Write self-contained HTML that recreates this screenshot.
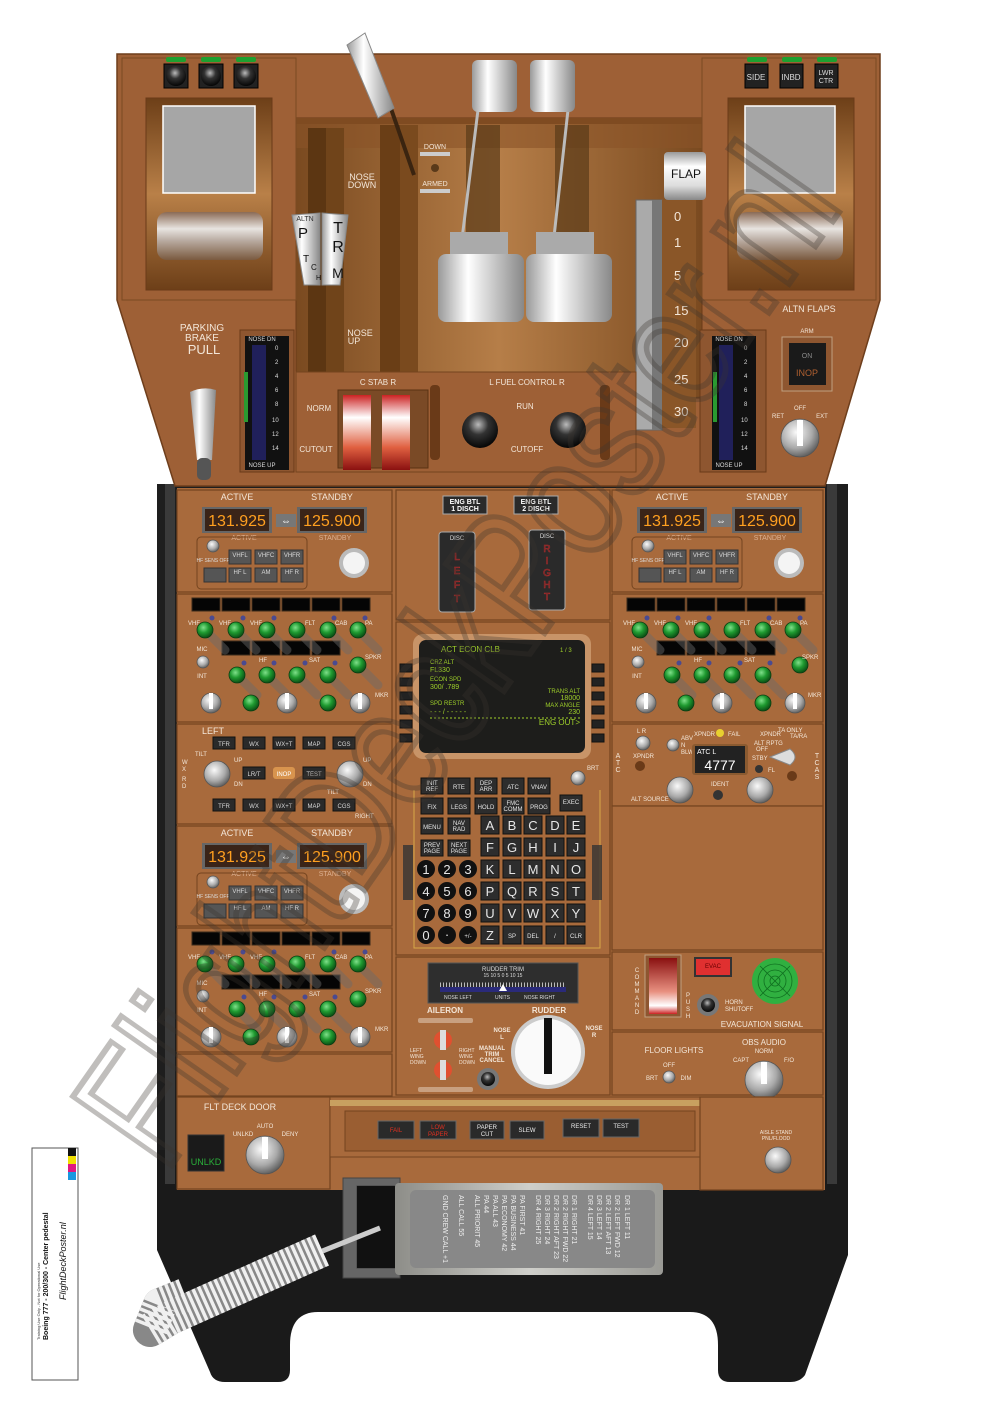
<!DOCTYPE html>
<html><head><meta charset="utf-8"><style>
html,body{margin:0;padding:0;background:#fff;}
svg{display:block}
text{font-family:"Liberation Sans",sans-serif;}
.w{fill:#f3e6d8;}
.s{font-size:7px}
.m{font-size:9px}
.c{text-anchor:middle}
.p{fill:#a86a3c;stroke:#74441f;stroke-width:1.2}
.k{fill:#2a2a2a;stroke:#111;stroke-width:.8}
.bt{fill:#d8d8d8;font-size:6px;text-anchor:middle}
.g{fill:url(#gk);stroke:#0c3d12;stroke-width:.8}
.sv{fill:url(#sil);stroke:#555;stroke-width:.8}
.blk{fill:#050505;stroke:#3a2a1a;stroke-width:1}
.ck{fill:#2d2d2d;stroke:#111}
.ckt{fill:#e6e6e6;font-size:13px;text-anchor:middle}
.ckts{fill:#e6e6e6;font-size:6px;text-anchor:middle}
</style></head><body>
<svg width="1000" height="1410" viewBox="0 0 1000 1410" xmlns="http://www.w3.org/2000/svg">
<defs>
<radialGradient id="gk" cx="40%" cy="35%" r="65%"><stop offset="0" stop-color="#7fe08a"/><stop offset=".5" stop-color="#1f9a30"/><stop offset="1" stop-color="#0b5015"/></radialGradient>
<radialGradient id="sil" cx="40%" cy="35%" r="70%"><stop offset="0" stop-color="#fafafa"/><stop offset=".6" stop-color="#a9a9a9"/><stop offset="1" stop-color="#555"/></radialGradient>
<radialGradient id="blkn" cx="45%" cy="35%" r="70%"><stop offset="0" stop-color="#bbb"/><stop offset=".4" stop-color="#333"/><stop offset="1" stop-color="#000"/></radialGradient>
<linearGradient id="cyl" x1="0" y1="0" x2="0" y2="1"><stop offset="0" stop-color="#8a6a55"/><stop offset=".35" stop-color="#e8e4e0"/><stop offset=".6" stop-color="#b8aaa0"/><stop offset="1" stop-color="#7a5a40"/></linearGradient>
<linearGradient id="wh" x1="0" y1="0" x2="0" y2="1"><stop offset="0" stop-color="#999"/><stop offset=".3" stop-color="#fff"/><stop offset=".7" stop-color="#ddd"/><stop offset="1" stop-color="#888"/></linearGradient>
<linearGradient id="whh" x1="0" y1="0" x2="1" y2="0"><stop offset="0" stop-color="#999"/><stop offset=".35" stop-color="#fff"/><stop offset="1" stop-color="#888"/></linearGradient>
<linearGradient id="ctr" x1="0" y1="0" x2="1" y2="0"><stop offset="0" stop-color="#7a4a20"/><stop offset=".5" stop-color="#b67e48"/><stop offset="1" stop-color="#7a4a20"/></linearGradient>
<linearGradient id="frm" x1="0" y1="0" x2="0" y2="1"><stop offset="0" stop-color="#6d3f18"/><stop offset=".5" stop-color="#b98048"/><stop offset="1" stop-color="#6d3f18"/></linearGradient>
<linearGradient id="red" x1="0" y1="0" x2="0" y2="1"><stop offset="0" stop-color="#c22"/><stop offset=".3" stop-color="#fff"/><stop offset=".7" stop-color="#e06040"/><stop offset="1" stop-color="#8a1010"/></linearGradient>
<linearGradient id="red2" x1="0" y1="0" x2="0" y2="1"><stop offset="0" stop-color="#8a1010"/><stop offset=".6" stop-color="#e89080"/><stop offset=".85" stop-color="#fff"/><stop offset="1" stop-color="#c22"/></linearGradient>
<linearGradient id="plate" x1="0" y1="0" x2="1" y2="0"><stop offset="0" stop-color="#8d8d88"/><stop offset=".5" stop-color="#cfcfca"/><stop offset="1" stop-color="#9a9a95"/></linearGradient>
</defs>

<!-- base black body -->
<rect x="157" y="484" width="691" height="700" fill="#1e1e1e"/>
<path d="M157,1150 L848,1150 L848,1255 L805,1375 Q800,1382 790,1382 L730,1382 Q718,1382 718,1370 L718,1345 Q718,1312 690,1312 L318,1312 Q290,1312 290,1345 L290,1370 Q290,1382 278,1382 L225,1382 Q213,1382 210,1372 L157,1250 Z" fill="#1a1a1a"/>
<rect x="165" y="484" width="10" height="700" fill="#3a3a3a"/>
<rect x="827" y="484" width="10" height="700" fill="#3a3a3a"/>

<!-- TOP SECTION -->
<polygon points="117,54 880,54 880,300 825,486 175,486 117,300" fill="#9e6036" stroke="#6e3e1c" stroke-width="1.5"/>
<rect x="296" y="118" width="406" height="280" fill="url(#ctr)" stroke="#6a3a18"/>
<rect x="296" y="118" width="406" height="6" fill="#6e4018"/>
<rect x="296" y="118" width="406" height="30" fill="#8a5428" opacity=".6"/>
<rect x="122" y="58" width="174" height="242" fill="#9e6036" stroke="#7a4a22"/>
<rect x="146" y="98" width="126" height="192" fill="url(#frm)" stroke="#6a3a18"/>
<rect x="163" y="106" width="92" height="87" fill="#a6a6a6" stroke="#fff" stroke-width="1.5"/>
<rect x="157" y="212" width="106" height="48" rx="10" fill="url(#cyl)"/>
<rect x="702" y="58" width="174" height="242" fill="#9e6036" stroke="#7a4a22"/>
<rect x="728" y="98" width="126" height="192" fill="url(#frm)" stroke="#6a3a18"/>
<rect x="745" y="106" width="90" height="87" fill="#a6a6a6" stroke="#fff" stroke-width="1.5"/>
<rect x="737" y="212" width="106" height="48" rx="10" fill="url(#cyl)"/>
<g fill="#1ea030"><rect x="166" y="57" width="20" height="5" rx="2"/><rect x="201" y="57" width="20" height="5" rx="2"/><rect x="236" y="57" width="20" height="5" rx="2"/><rect x="747" y="57" width="20" height="5" rx="2"/><rect x="782" y="57" width="20" height="5" rx="2"/><rect x="817" y="57" width="20" height="5" rx="2"/></g>
<g fill="#222" stroke="#000"><rect x="164" y="64" width="24" height="24"/><rect x="199" y="64" width="24" height="24"/><rect x="234" y="64" width="24" height="24"/><rect x="745" y="64" width="23" height="24"/><rect x="780" y="64" width="23" height="24"/><rect x="815" y="64" width="23" height="24"/></g>
<g fill="url(#blkn)"><circle cx="176" cy="76" r="10"/><circle cx="211" cy="76" r="10"/><circle cx="246" cy="76" r="10"/></g>
<text x="756" y="80" class="c" fill="#ddd" font-size="8">SIDE</text>
<text x="791" y="80" class="c" fill="#ddd" font-size="8">INBD</text>
<text x="826" y="75" class="c" fill="#ddd" font-size="7">LWR</text><text x="826" y="83" class="c" fill="#ddd" font-size="7">CTR</text>

<rect x="308" y="128" width="36" height="262" fill="#5c3612"/>
<rect x="326" y="128" width="18" height="262" fill="#70441a"/>
<rect x="380" y="125" width="38" height="248" fill="#6a3e16"/>
<rect x="400" y="125" width="18" height="248" fill="#7a4a1e"/>
<text x="362" y="180" class="w m c">NOSE</text><text x="362" y="188" class="w m c">DOWN</text>
<text x="360" y="336" class="w m c">NOSE</text><text x="354" y="344" class="w m c">UP</text>
<path d="M292,215 L320,213 L320,285 L304,285 Z" fill="url(#whh)" stroke="#888"/>
<path d="M322,213 L348,215 L340,285 L322,285 Z" fill="url(#whh)" stroke="#888"/>
<text x="305" y="221" class="c" font-size="7" fill="#333">ALTN</text>
<text x="298" y="238" font-size="15" fill="#111">P</text>
<text x="303" y="262" font-size="10" fill="#111">T</text><text x="311" y="270" font-size="8" fill="#111">C</text><text x="316" y="280" font-size="7" fill="#111">H</text>
<text x="338" y="233" class="c" font-size="16" fill="#111">T</text><text x="338" y="252" class="c" font-size="16" fill="#111">R</text><text x="338" y="278" class="c" font-size="14" fill="#111">M</text>
<line x1="388" y1="100" x2="414" y2="175" stroke="#3a2410" stroke-width="4"/>
<polygon points="347,45 365,33 394,108 378,118" fill="url(#whh)" stroke="#888"/>
<text x="435" y="149" class="c w" font-size="7">DOWN</text><rect x="420" y="152" width="30" height="4" fill="#ccc"/>
<circle cx="435" cy="168" r="4" fill="#5a3a1a"/>
<text x="435" y="186" class="c w" font-size="7">ARMED</text><rect x="420" y="189" width="30" height="4" fill="#ccc"/>
<rect x="466" y="125" width="34" height="170" fill="#5a3a18" opacity=".7"/>
<rect x="555" y="125" width="34" height="170" fill="#5a3a18" opacity=".7"/>
<line x1="478" y1="110" x2="460" y2="255" stroke="#bbb" stroke-width="3"/>
<line x1="568" y1="110" x2="552" y2="255" stroke="#bbb" stroke-width="3"/>
<rect x="472" y="60" width="45" height="52" rx="6" fill="url(#whh)"/>
<rect x="530" y="60" width="45" height="52" rx="6" fill="url(#whh)"/>
<rect x="450" y="232" width="58" height="26" fill="#aaa"/>
<rect x="536" y="232" width="58" height="26" fill="#aaa"/>
<rect x="438" y="254" width="86" height="68" rx="8" fill="url(#whh)"/>
<rect x="526" y="254" width="86" height="68" rx="8" fill="url(#whh)"/>
<rect x="636" y="200" width="26" height="230" fill="#aaa" stroke="#666"/>
<rect x="652" y="200" width="10" height="230" fill="#777"/>
<rect x="662" y="200" width="34" height="228" fill="#8a5628"/>
<rect x="664" y="152" width="42" height="48" rx="4" fill="url(#wh)"/>
<text x="686" y="178" class="c" font-size="12" fill="#111">FLAP</text>
<g class="w" font-size="13"><text x="674" y="221">0</text><text x="674" y="247">1</text><text x="674" y="280">5</text><text x="674" y="315">15</text><text x="674" y="347">20</text><text x="674" y="384">25</text><text x="674" y="416">30</text></g>
<rect x="296" y="372" width="340" height="100" fill="#9e6036" stroke="#74441f"/>
<text x="202" y="331" class="w c" font-size="10">PARKING</text><text x="202" y="341" class="w c" font-size="10">BRAKE</text><text x="204" y="354" class="w c" font-size="13">PULL</text>
<path d="M190,392 Q203,386 216,390 L212,460 L197,460 Z" fill="url(#whh)"/>
<rect x="197" y="458" width="14" height="22" rx="5" fill="#555"/>
<rect x="240" y="330" width="54" height="142" fill="#8e5630" stroke="#6a3a18"/>
<rect x="245" y="336" width="44" height="134" fill="#111"/>
<rect x="252" y="345" width="14" height="115" fill="#20205a"/>
<rect x="244" y="372" width="4" height="50" fill="#2a9a30"/>
<text x="262" y="341" class="c" font-size="6" fill="#ddd">NOSE DN</text><text x="262" y="467" class="c" font-size="6" fill="#ddd">NOSE UP</text>
<g fill="#ddd" font-size="6"><text x="275" y="350">0</text><text x="275" y="364">2</text><text x="275" y="378">4</text><text x="275" y="392">6</text><text x="275" y="406">8</text><text x="272" y="422">10</text><text x="272" y="436">12</text><text x="272" y="450">14</text></g>
<rect x="700" y="330" width="66" height="142" fill="#8e5630" stroke="#6a3a18"/>
<rect x="712" y="336" width="44" height="134" fill="#111"/>
<rect x="719" y="345" width="14" height="115" fill="#20205a"/>
<rect x="713" y="372" width="4" height="50" fill="#2a9a30"/>
<text x="729" y="341" class="c" font-size="6" fill="#ddd">NOSE DN</text><text x="729" y="467" class="c" font-size="6" fill="#ddd">NOSE UP</text>
<g fill="#ddd" font-size="6"><text x="744" y="350">0</text><text x="744" y="364">2</text><text x="744" y="378">4</text><text x="744" y="392">6</text><text x="744" y="406">8</text><text x="741" y="422">10</text><text x="741" y="436">12</text><text x="741" y="450">14</text></g>
<text x="378" y="385" class="w c" font-size="8">C STAB R</text>
<text x="319" y="411" class="w c" font-size="8">NORM</text><text x="316" y="452" class="w c" font-size="8">CUTOUT</text>
<rect x="338" y="390" width="90" height="78" fill="#7a4a26" stroke="#5a3212"/>
<rect x="343" y="395" width="28" height="75" fill="url(#red)"/><rect x="382" y="395" width="28" height="75" fill="url(#red)"/>
<text x="527" y="385" class="w c" font-size="8">L FUEL CONTROL R</text>
<text x="525" y="409" class="w c" font-size="8">RUN</text><text x="527" y="452" class="w c" font-size="8">CUTOFF</text>
<circle cx="480" cy="430" r="18" fill="url(#blkn)"/><circle cx="568" cy="430" r="18" fill="url(#blkn)"/>
<rect x="600" y="385" width="10" height="75" rx="4" fill="#6a3a18"/><rect x="430" y="385" width="10" height="75" rx="4" fill="#6a3a18"/>
<text x="809" y="312" class="w c" font-size="9">ALTN FLAPS</text>
<text x="807" y="333" class="w c" font-size="6">ARM</text>
<rect x="782" y="337" width="50" height="54" fill="#8e5630" stroke="#c0a080"/>
<rect x="789" y="343" width="37" height="42" fill="#1a1a1a"/>
<text x="807" y="358" class="c" font-size="7" fill="#888">ON</text><text x="807" y="376" class="c" font-size="9" fill="#b06030">INOP</text>
<text x="800" y="410" class="w c" font-size="6">OFF</text><text x="778" y="418" class="w c" font-size="6">RET</text><text x="822" y="418" class="w c" font-size="6">EXT</text>
<circle cx="800" cy="438" r="19" class="sv"/><rect x="797" y="420" width="6" height="26" fill="#fff"/>

<!-- MIDDLE PANELS BG -->
<rect x="177" y="488" width="648" height="702" fill="#a86a3c"/>

<g transform="translate(177,490)">
<rect width="215" height="102" class="p"/>
<text x="60" y="10" class="w m c">ACTIVE</text><text x="155" y="10" class="w m c">STANDBY</text>
<rect x="25" y="17" width="70" height="26" fill="#666"/><rect x="28" y="19" width="64" height="22" fill="#3a2418"/>
<text x="60" y="36" class="c" font-size="16" fill="#ffa020">131.925</text>
<rect x="99" y="24" width="20" height="13" fill="#777"/><text x="109" y="34" class="c" font-size="10" fill="#fff">⇔</text>
<rect x="120" y="17" width="70" height="26" fill="#666"/><rect x="123" y="19" width="64" height="22" fill="#3a2418"/>
<text x="155" y="36" class="c" font-size="16" fill="#ffa020">125.900</text>
<text x="67" y="50" class="c s" fill="#dcb090">ACTIVE</text><text x="158" y="50" class="c s" fill="#dcb090">STANDBY</text>
<rect x="20" y="47" width="110" height="52" rx="4" fill="none" stroke="#74441f"/>
<circle cx="36" cy="56" r="6" class="sv"/>
<text x="36" y="72" class="c" font-size="5" fill="#ddd">HF SENS OFF</text>
<g fill="#555" stroke="#333"><rect x="52" y="60" width="22" height="14"/><rect x="78" y="60" width="22" height="14"/><rect x="104" y="60" width="22" height="14"/><rect x="52" y="78" width="22" height="14"/><rect x="78" y="78" width="22" height="14"/><rect x="104" y="78" width="22" height="14"/><rect x="27" y="78" width="22" height="14"/></g>
<text x="63" y="67" class="bt">VHFL</text><text x="89" y="67" class="bt">VHFC</text><text x="115" y="67" class="bt">VHFR</text>
<text x="63" y="84" class="bt">HF L</text><text x="89" y="84" class="bt">AM</text><text x="115" y="84" class="bt">HF R</text>
<circle cx="177" cy="73" r="15" fill="#bbb"/><circle cx="177" cy="73" r="11" fill="#f4f4f4"/>
</g>
<g transform="translate(177,826)">
<rect width="215" height="100" class="p"/>
<text x="60" y="10" class="w m c">ACTIVE</text><text x="155" y="10" class="w m c">STANDBY</text>
<rect x="25" y="17" width="70" height="26" fill="#666"/><rect x="28" y="19" width="64" height="22" fill="#3a2418"/>
<text x="60" y="36" class="c" font-size="16" fill="#ffa020">131.925</text>
<rect x="99" y="24" width="20" height="13" fill="#777"/><text x="109" y="34" class="c" font-size="10" fill="#fff">⇔</text>
<rect x="120" y="17" width="70" height="26" fill="#666"/><rect x="123" y="19" width="64" height="22" fill="#3a2418"/>
<text x="155" y="36" class="c" font-size="16" fill="#ffa020">125.900</text>
<text x="67" y="50" class="c s" fill="#dcb090">ACTIVE</text><text x="158" y="50" class="c s" fill="#dcb090">STANDBY</text>
<rect x="20" y="47" width="110" height="52" rx="4" fill="none" stroke="#74441f"/>
<circle cx="36" cy="56" r="6" class="sv"/>
<text x="36" y="72" class="c" font-size="5" fill="#ddd">HF SENS OFF</text>
<g fill="#555" stroke="#333"><rect x="52" y="60" width="22" height="14"/><rect x="78" y="60" width="22" height="14"/><rect x="104" y="60" width="22" height="14"/><rect x="52" y="78" width="22" height="14"/><rect x="78" y="78" width="22" height="14"/><rect x="104" y="78" width="22" height="14"/><rect x="27" y="78" width="22" height="14"/></g>
<text x="63" y="67" class="bt">VHFL</text><text x="89" y="67" class="bt">VHFC</text><text x="115" y="67" class="bt">VHFR</text>
<text x="63" y="84" class="bt">HF L</text><text x="89" y="84" class="bt">AM</text><text x="115" y="84" class="bt">HF R</text>
<circle cx="177" cy="73" r="15" fill="#bbb"/><circle cx="177" cy="73" r="11" fill="#f4f4f4"/>
</g>
<g transform="translate(612,490)">
<rect width="211" height="102" class="p"/>
<text x="60" y="10" class="w m c">ACTIVE</text><text x="155" y="10" class="w m c">STANDBY</text>
<rect x="25" y="17" width="70" height="26" fill="#666"/><rect x="28" y="19" width="64" height="22" fill="#3a2418"/>
<text x="60" y="36" class="c" font-size="16" fill="#ffa020">131.925</text>
<rect x="99" y="24" width="20" height="13" fill="#777"/><text x="109" y="34" class="c" font-size="10" fill="#fff">⇔</text>
<rect x="120" y="17" width="70" height="26" fill="#666"/><rect x="123" y="19" width="64" height="22" fill="#3a2418"/>
<text x="155" y="36" class="c" font-size="16" fill="#ffa020">125.900</text>
<text x="67" y="50" class="c s" fill="#dcb090">ACTIVE</text><text x="158" y="50" class="c s" fill="#dcb090">STANDBY</text>
<rect x="20" y="47" width="110" height="52" rx="4" fill="none" stroke="#74441f"/>
<circle cx="36" cy="56" r="6" class="sv"/>
<text x="36" y="72" class="c" font-size="5" fill="#ddd">HF SENS OFF</text>
<g fill="#555" stroke="#333"><rect x="52" y="60" width="22" height="14"/><rect x="78" y="60" width="22" height="14"/><rect x="104" y="60" width="22" height="14"/><rect x="52" y="78" width="22" height="14"/><rect x="78" y="78" width="22" height="14"/><rect x="104" y="78" width="22" height="14"/><rect x="27" y="78" width="22" height="14"/></g>
<text x="63" y="67" class="bt">VHFL</text><text x="89" y="67" class="bt">VHFC</text><text x="115" y="67" class="bt">VHFR</text>
<text x="63" y="84" class="bt">HF L</text><text x="89" y="84" class="bt">AM</text><text x="115" y="84" class="bt">HF R</text>
<circle cx="177" cy="73" r="15" fill="#bbb"/><circle cx="177" cy="73" r="11" fill="#f4f4f4"/>
</g>

<g transform="translate(177,594)">
<rect width="215" height="128" class="p"/>
<g class="blk"><rect x="15" y="4" width="28" height="13"/><rect x="45" y="4" width="28" height="13"/><rect x="75" y="4" width="28" height="13"/><rect x="105" y="4" width="28" height="13"/><rect x="135" y="4" width="28" height="13"/><rect x="165" y="4" width="28" height="13"/><rect x="45" y="47" width="28" height="14"/><rect x="75" y="47" width="28" height="14"/><rect x="105" y="47" width="28" height="14"/><rect x="135" y="47" width="28" height="14"/></g>
<g stroke="#6b6b6b" stroke-width="9" opacity=".45" stroke-linecap="round"><line x1="30" y1="38" x2="48" y2="56"/><line x1="61" y1="38" x2="79" y2="56"/><line x1="92" y1="38" x2="110" y2="56"/><line x1="122" y1="38" x2="140" y2="56"/><line x1="153" y1="38" x2="171" y2="56"/><line x1="183" y1="38" x2="201" y2="56"/><line x1="62" y1="83" x2="80" y2="101"/><line x1="92" y1="83" x2="110" y2="101"/><line x1="122" y1="83" x2="140" y2="101"/><line x1="153" y1="83" x2="171" y2="101"/><line x1="183" y1="73" x2="201" y2="91"/></g>
<g class="g"><circle cx="28" cy="36" r="8"/><circle cx="59" cy="36" r="8"/><circle cx="90" cy="36" r="8"/><circle cx="120" cy="36" r="8"/><circle cx="151" cy="36" r="8"/><circle cx="181" cy="36" r="8"/><circle cx="60" cy="81" r="8"/><circle cx="90" cy="81" r="8"/><circle cx="120" cy="81" r="8"/><circle cx="151" cy="81" r="8"/><circle cx="181" cy="71" r="8"/><circle cx="74" cy="109" r="8"/><circle cx="151" cy="109" r="8"/></g>
<g fill="#4a4a90"><circle cx="35" cy="24" r="2.5"/><circle cx="66" cy="24" r="2.5"/><circle cx="97" cy="24" r="2.5"/><circle cx="157" cy="24" r="2.5"/><circle cx="188" cy="24" r="2.5"/><circle cx="67" cy="69" r="2.5"/><circle cx="97" cy="69" r="2.5"/><circle cx="128" cy="69" r="2.5"/><circle cx="158" cy="69" r="2.5"/></g>
<g class="w" font-size="6"><text x="11" y="31">VHF</text><text x="42" y="31">VHF</text><text x="73" y="31">VHF</text><text x="128" y="31">FLT</text><text x="158" y="31">CAB</text><text x="188" y="31">PA</text><text x="25" y="57" class="c">MIC</text><text x="25" y="84" class="c">INT</text><text x="82" y="68">HF</text><text x="132" y="68">SAT</text><text x="188" y="65">SPKR</text><text x="198" y="103">MKR</text></g>
<circle cx="26" cy="68" r="6" class="sv"/>
<g class="sv"><circle cx="34" cy="109" r="10"/><circle cx="110" cy="109" r="10"/><circle cx="183" cy="109" r="10"/></g>
<g fill="#fff"><rect x="32" y="99" width="4" height="16"/><rect x="108" y="99" width="4" height="16"/><rect x="181" y="99" width="4" height="16"/></g>
</g>
<g transform="translate(177,928)">
<rect width="215" height="124" class="p"/>
<g class="blk"><rect x="15" y="4" width="28" height="13"/><rect x="45" y="4" width="28" height="13"/><rect x="75" y="4" width="28" height="13"/><rect x="105" y="4" width="28" height="13"/><rect x="135" y="4" width="28" height="13"/><rect x="165" y="4" width="28" height="13"/><rect x="45" y="47" width="28" height="14"/><rect x="75" y="47" width="28" height="14"/><rect x="105" y="47" width="28" height="14"/><rect x="135" y="47" width="28" height="14"/></g>
<g stroke="#6b6b6b" stroke-width="9" opacity=".45" stroke-linecap="round"><line x1="30" y1="38" x2="48" y2="56"/><line x1="61" y1="38" x2="79" y2="56"/><line x1="92" y1="38" x2="110" y2="56"/><line x1="122" y1="38" x2="140" y2="56"/><line x1="153" y1="38" x2="171" y2="56"/><line x1="183" y1="38" x2="201" y2="56"/><line x1="62" y1="83" x2="80" y2="101"/><line x1="92" y1="83" x2="110" y2="101"/><line x1="122" y1="83" x2="140" y2="101"/><line x1="153" y1="83" x2="171" y2="101"/></g>
<g class="g"><circle cx="28" cy="36" r="8"/><circle cx="59" cy="36" r="8"/><circle cx="90" cy="36" r="8"/><circle cx="120" cy="36" r="8"/><circle cx="151" cy="36" r="8"/><circle cx="181" cy="36" r="8"/><circle cx="60" cy="81" r="8"/><circle cx="90" cy="81" r="8"/><circle cx="120" cy="81" r="8"/><circle cx="151" cy="81" r="8"/><circle cx="181" cy="71" r="8"/><circle cx="74" cy="109" r="8"/><circle cx="151" cy="109" r="8"/></g>
<g fill="#4a4a90"><circle cx="35" cy="24" r="2.5"/><circle cx="66" cy="24" r="2.5"/><circle cx="97" cy="24" r="2.5"/><circle cx="157" cy="24" r="2.5"/><circle cx="188" cy="24" r="2.5"/><circle cx="67" cy="69" r="2.5"/><circle cx="97" cy="69" r="2.5"/><circle cx="128" cy="69" r="2.5"/><circle cx="158" cy="69" r="2.5"/></g>
<g class="w" font-size="6"><text x="11" y="31">VHF</text><text x="42" y="31">VHF</text><text x="73" y="31">VHF</text><text x="128" y="31">FLT</text><text x="158" y="31">CAB</text><text x="188" y="31">PA</text><text x="25" y="57" class="c">MIC</text><text x="25" y="84" class="c">INT</text><text x="82" y="68">HF</text><text x="132" y="68">SAT</text><text x="188" y="65">SPKR</text><text x="198" y="103">MKR</text></g>
<circle cx="26" cy="68" r="6" class="sv"/>
<g class="sv"><circle cx="34" cy="109" r="10"/><circle cx="110" cy="109" r="10"/><circle cx="183" cy="109" r="10"/></g>
<g fill="#fff"><rect x="32" y="99" width="4" height="16"/><rect x="108" y="99" width="4" height="16"/><rect x="181" y="99" width="4" height="16"/></g>
</g>
<g transform="translate(612,594)">
<rect width="211" height="128" class="p"/>
<g class="blk"><rect x="15" y="4" width="28" height="13"/><rect x="45" y="4" width="28" height="13"/><rect x="75" y="4" width="28" height="13"/><rect x="105" y="4" width="28" height="13"/><rect x="135" y="4" width="28" height="13"/><rect x="165" y="4" width="28" height="13"/><rect x="45" y="47" width="28" height="14"/><rect x="75" y="47" width="28" height="14"/><rect x="105" y="47" width="28" height="14"/><rect x="135" y="47" width="28" height="14"/></g>
<g stroke="#6b6b6b" stroke-width="9" opacity=".45" stroke-linecap="round"><line x1="30" y1="38" x2="48" y2="56"/><line x1="61" y1="38" x2="79" y2="56"/><line x1="92" y1="38" x2="110" y2="56"/><line x1="122" y1="38" x2="140" y2="56"/><line x1="153" y1="38" x2="171" y2="56"/><line x1="183" y1="38" x2="201" y2="56"/><line x1="62" y1="83" x2="80" y2="101"/><line x1="92" y1="83" x2="110" y2="101"/><line x1="122" y1="83" x2="140" y2="101"/><line x1="153" y1="83" x2="171" y2="101"/></g>
<g class="g"><circle cx="28" cy="36" r="8"/><circle cx="59" cy="36" r="8"/><circle cx="90" cy="36" r="8"/><circle cx="120" cy="36" r="8"/><circle cx="151" cy="36" r="8"/><circle cx="181" cy="36" r="8"/><circle cx="60" cy="81" r="8"/><circle cx="90" cy="81" r="8"/><circle cx="120" cy="81" r="8"/><circle cx="151" cy="81" r="8"/><circle cx="188" cy="71" r="8"/><circle cx="74" cy="109" r="8"/><circle cx="151" cy="109" r="8"/></g>
<g fill="#4a4a90"><circle cx="35" cy="24" r="2.5"/><circle cx="66" cy="24" r="2.5"/><circle cx="97" cy="24" r="2.5"/><circle cx="157" cy="24" r="2.5"/><circle cx="188" cy="24" r="2.5"/><circle cx="67" cy="69" r="2.5"/><circle cx="97" cy="69" r="2.5"/><circle cx="128" cy="69" r="2.5"/><circle cx="158" cy="69" r="2.5"/></g>
<g class="w" font-size="6"><text x="11" y="31">VHF</text><text x="42" y="31">VHF</text><text x="73" y="31">VHF</text><text x="128" y="31">FLT</text><text x="158" y="31">CAB</text><text x="188" y="31">PA</text><text x="25" y="57" class="c">MIC</text><text x="25" y="84" class="c">INT</text><text x="82" y="68">HF</text><text x="132" y="68">SAT</text><text x="190" y="65">SPKR</text><text x="196" y="103">MKR</text></g>
<circle cx="26" cy="68" r="6" class="sv"/>
<g class="sv"><circle cx="34" cy="109" r="10"/><circle cx="110" cy="109" r="10"/><circle cx="183" cy="109" r="10"/></g>
<g fill="#fff"><rect x="32" y="99" width="4" height="16"/><rect x="108" y="99" width="4" height="16"/><rect x="181" y="99" width="4" height="16"/></g>
</g>

<g transform="translate(177,724)">
<rect width="215" height="100" class="p"/>
<text x="25" y="10" class="w m">LEFT</text>
<g fill="#2a2a2a" stroke="#111"><rect x="36" y="13" width="22" height="12"/><rect x="66" y="13" width="22" height="12"/><rect x="96" y="13" width="22" height="12"/><rect x="126" y="13" width="22" height="12"/><rect x="156" y="13" width="22" height="12"/><rect x="66" y="43" width="22" height="12"/><rect x="126" y="43" width="22" height="12"/><rect x="36" y="75" width="22" height="12"/><rect x="66" y="75" width="22" height="12"/><rect x="96" y="75" width="22" height="12"/><rect x="126" y="75" width="22" height="12"/><rect x="156" y="75" width="22" height="12"/></g>
<rect x="96" y="43" width="22" height="12" rx="3" fill="#d8944e"/>
<g class="bt"><text x="47" y="22">TFR</text><text x="77" y="22">WX</text><text x="107" y="22">WX+T</text><text x="137" y="22">MAP</text><text x="167" y="22">CGS</text><text x="77" y="52">LR/T</text><text x="107" y="52" fill="#fff">INOP</text><text x="137" y="52">TEST</text><text x="47" y="84">TFR</text><text x="77" y="84">WX</text><text x="107" y="84">WX+T</text><text x="137" y="84">MAP</text><text x="167" y="84">CGS</text></g>
<circle cx="40" cy="50" r="13" class="sv"/><circle cx="173" cy="50" r="13" class="sv"/>
<g class="w" font-size="6"><text x="18" y="32">TILT</text><text x="57" y="38">UP</text><text x="57" y="62">DN</text><text x="150" y="70">TILT</text><text x="186" y="38">UP</text><text x="186" y="62">DN</text><text x="178" y="94">RIGHT</text><text x="5" y="40">W</text><text x="5" y="47">X</text><text x="5" y="57">R</text><text x="5" y="64">D</text></g>
</g>

<rect x="177" y="1054" width="215" height="42" class="p"/>
<rect x="177" y="1097" width="153" height="92" class="p"/>
<text x="240" y="1110" class="w m c">FLT DECK DOOR</text>
<rect x="188" y="1135" width="36" height="36" fill="#1a1a1a" stroke="#333"/>
<text x="206" y="1165" class="c" font-size="9" fill="#2ab03a">UNLKD</text>
<text x="265" y="1128" class="w c" font-size="6">AUTO</text><text x="243" y="1136" class="w c" font-size="6">UNLKD</text><text x="290" y="1136" class="w c" font-size="6">DENY</text>
<circle cx="265" cy="1155" r="19" class="sv"/><rect x="262" y="1137" width="6" height="22" fill="#fff"/>

<rect x="396" y="490" width="214" height="130" class="p"/>
<rect x="443" y="496" width="44" height="18" fill="#2a2a2a" stroke="#aaa"/>
<text x="465" y="504" class="c" font-size="7" fill="#fff" font-weight="bold">ENG BTL</text><text x="465" y="511" class="c" font-size="7" fill="#fff" font-weight="bold">1 DISCH</text>
<rect x="514" y="496" width="44" height="18" fill="#2a2a2a" stroke="#aaa"/>
<text x="536" y="504" class="c" font-size="7" fill="#fff" font-weight="bold">ENG BTL</text><text x="536" y="511" class="c" font-size="7" fill="#fff" font-weight="bold">2 DISCH</text>
<rect x="439" y="532" width="36" height="80" rx="3" fill="#2a2a2a" stroke="#aaa"/>
<rect x="529" y="530" width="36" height="80" rx="3" fill="#2a2a2a" stroke="#aaa"/>
<text x="457" y="540" class="c" font-size="6" fill="#ddd">DISC</text><text x="547" y="538" class="c" font-size="6" fill="#ddd">DISC</text>
<g class="c" font-size="10" fill="none" stroke="#b02a2a" stroke-width=".6"><text x="457" y="560">L</text><text x="457" y="574">E</text><text x="457" y="588">F</text><text x="457" y="602">T</text><text x="547" y="552">R</text><text x="547" y="564">I</text><text x="547" y="576">G</text><text x="547" y="588">H</text><text x="547" y="600">T</text></g>

<rect x="396" y="622" width="214" height="333" class="p"/>
<rect x="413" y="634" width="178" height="125" rx="10" fill="#c89468"/>
<rect x="419" y="640" width="166" height="113" rx="7" fill="#1d1d1b"/>
<g fill="#9fd02a"><text x="441" y="652" font-size="8">ACT ECON CLB</text><text x="560" y="652" font-size="6">1 / 3</text>
<text x="430" y="664" font-size="6">CRZ ALT</text><text x="430" y="672" font-size="7">FL330</text><text x="430" y="681" font-size="6">ECON SPD</text><text x="430" y="689" font-size="7">300/ .789</text>
<text x="430" y="705" font-size="6">SPD RESTR</text><text x="430" y="714" font-size="7">- - - / - - - - -</text>
<text x="580" y="693" font-size="6" text-anchor="end">TRANS ALT</text><text x="580" y="700" font-size="7" text-anchor="end">18000</text><text x="580" y="707" font-size="6" text-anchor="end">MAX ANGLE</text><text x="580" y="714" font-size="7" text-anchor="end">230</text>
<text x="580" y="725" font-size="8" text-anchor="end">ENG OUT&gt;</text></g>
<line x1="430" y1="718" x2="580" y2="718" stroke="#9fd02a" stroke-dasharray="2 2"/>
<g fill="#222" stroke="#111"><rect x="400" y="664" width="12" height="8"/><rect x="400" y="678" width="12" height="8"/><rect x="400" y="692" width="12" height="8"/><rect x="400" y="706" width="12" height="8"/><rect x="400" y="720" width="12" height="8"/><rect x="400" y="734" width="12" height="8"/><rect x="592" y="664" width="12" height="8"/><rect x="592" y="678" width="12" height="8"/><rect x="592" y="692" width="12" height="8"/><rect x="592" y="706" width="12" height="8"/><rect x="592" y="720" width="12" height="8"/><rect x="592" y="734" width="12" height="8"/></g>
<circle cx="578" cy="778" r="7" class="sv"/><text x="587" y="770" class="w" font-size="6">BRT</text>
<path d="M414,790 L414,948 L600,948 L600,790" fill="none" stroke="#d8a848" stroke-width="1"/>
<g class="ck"><rect x="421" y="778" width="22" height="16"/><rect x="448" y="778" width="22" height="16"/><rect x="475" y="778" width="22" height="16"/><rect x="502" y="778" width="22" height="16"/><rect x="528" y="778" width="22" height="16"/>
<rect x="421" y="798" width="22" height="16"/><rect x="448" y="798" width="22" height="16"/><rect x="475" y="798" width="22" height="16"/><rect x="502" y="798" width="22" height="16"/><rect x="528" y="798" width="22" height="16"/><rect x="560" y="795" width="22" height="16"/>
<rect x="421" y="818" width="22" height="16"/><rect x="448" y="818" width="22" height="16"/><rect x="421" y="840" width="22" height="16"/><rect x="448" y="840" width="22" height="16"/></g>
<g class="ckts"><text x="432" y="785">INIT</text><text x="432" y="791">REF</text><text x="459" y="789">RTE</text><text x="486" y="785">DEP</text><text x="486" y="791">ARR</text><text x="513" y="789">ATC</text><text x="539" y="789">VNAV</text>
<text x="432" y="809">FIX</text><text x="459" y="809">LEGS</text><text x="486" y="809">HOLD</text><text x="513" y="805">FMC</text><text x="513" y="811">COMM</text><text x="539" y="809">PROG</text><text x="571" y="804">EXEC</text>
<text x="432" y="829">MENU</text><text x="459" y="825">NAV</text><text x="459" y="831">RAD</text><text x="432" y="847">PREV</text><text x="432" y="853">PAGE</text><text x="459" y="847">NEXT</text><text x="459" y="853">PAGE</text></g>
<g class="ck"><rect x="481" y="816" width="18" height="18"/><rect x="503" y="816" width="18" height="18"/><rect x="524" y="816" width="18" height="18"/><rect x="546" y="816" width="18" height="18"/><rect x="567" y="816" width="18" height="18"/>
<rect x="481" y="838" width="18" height="18"/><rect x="503" y="838" width="18" height="18"/><rect x="524" y="838" width="18" height="18"/><rect x="546" y="838" width="18" height="18"/><rect x="567" y="838" width="18" height="18"/>
<rect x="481" y="860" width="18" height="18"/><rect x="503" y="860" width="18" height="18"/><rect x="524" y="860" width="18" height="18"/><rect x="546" y="860" width="18" height="18"/><rect x="567" y="860" width="18" height="18"/>
<rect x="481" y="882" width="18" height="18"/><rect x="503" y="882" width="18" height="18"/><rect x="524" y="882" width="18" height="18"/><rect x="546" y="882" width="18" height="18"/><rect x="567" y="882" width="18" height="18"/>
<rect x="481" y="904" width="18" height="18"/><rect x="503" y="904" width="18" height="18"/><rect x="524" y="904" width="18" height="18"/><rect x="546" y="904" width="18" height="18"/><rect x="567" y="904" width="18" height="18"/>
<rect x="481" y="926" width="18" height="18"/><rect x="503" y="926" width="18" height="18"/><rect x="524" y="926" width="18" height="18"/><rect x="546" y="926" width="18" height="18"/><rect x="567" y="926" width="18" height="18"/></g>
<g fill="#111"><circle cx="426" cy="869" r="9"/><circle cx="447" cy="869" r="9"/><circle cx="468" cy="869" r="9"/><circle cx="426" cy="891" r="9"/><circle cx="447" cy="891" r="9"/><circle cx="468" cy="891" r="9"/><circle cx="426" cy="913" r="9"/><circle cx="447" cy="913" r="9"/><circle cx="468" cy="913" r="9"/><circle cx="426" cy="935" r="9"/><circle cx="447" cy="935" r="9"/><circle cx="468" cy="935" r="9"/></g>
<g class="ckt"><text x="490" y="830">A</text><text x="512" y="830">B</text><text x="533" y="830">C</text><text x="555" y="830">D</text><text x="576" y="830">E</text>
<text x="490" y="852">F</text><text x="512" y="852">G</text><text x="533" y="852">H</text><text x="555" y="852">I</text><text x="576" y="852">J</text>
<text x="490" y="874">K</text><text x="512" y="874">L</text><text x="533" y="874">M</text><text x="555" y="874">N</text><text x="576" y="874">O</text>
<text x="490" y="896">P</text><text x="512" y="896">Q</text><text x="533" y="896">R</text><text x="555" y="896">S</text><text x="576" y="896">T</text>
<text x="490" y="918">U</text><text x="512" y="918">V</text><text x="533" y="918">W</text><text x="555" y="918">X</text><text x="576" y="918">Y</text>
<text x="490" y="940">Z</text><text x="426" y="874">1</text><text x="447" y="874">2</text><text x="468" y="874">3</text><text x="426" y="896">4</text><text x="447" y="896">5</text><text x="468" y="896">6</text><text x="426" y="918">7</text><text x="447" y="918">8</text><text x="468" y="918">9</text><text x="426" y="940">0</text><text x="447" y="939">·</text></g>
<g class="ckts"><text x="468" y="938">+/-</text><text x="512" y="938">SP</text><text x="533" y="938">DEL</text><text x="555" y="938">/</text><text x="576" y="938">CLR</text></g>
<rect x="403" y="845" width="10" height="55" fill="#333" opacity=".8"/><rect x="592" y="845" width="10" height="55" fill="#333" opacity=".8"/>

<rect x="396" y="957" width="214" height="138" class="p"/>
<rect x="428" y="963" width="150" height="40" fill="#2e2e2e" stroke="#555"/>
<text x="503" y="971" class="c" font-size="6" fill="#ddd">RUDDER TRIM</text>
<text x="503" y="977" class="c" font-size="5" fill="#ddd">15   10    5    0    5    10   15</text>
<line x1="440" y1="985" x2="566" y2="985" stroke="#bbb" stroke-dasharray="1 2" stroke-width="5"/>
<rect x="440" y="987" width="126" height="5" fill="#2a2a7a"/>
<polygon points="503,984 499,991 507,991" fill="#fff"/>
<g fill="#ddd" font-size="5"><text x="444" y="999">NOSE LEFT</text><text x="495" y="999">UNITS</text><text x="524" y="999">NOSE RIGHT</text></g>
<text x="445" y="1013" class="w c" font-size="8" font-weight="bold">AILERON</text>
<text x="549" y="1013" class="w c" font-size="8" font-weight="bold">RUDDER</text>
<rect x="418" y="1018" width="55" height="5" rx="2" fill="#c8a080"/><rect x="418" y="1087" width="55" height="5" rx="2" fill="#c8a080"/>
<circle cx="443" cy="1040" r="9" fill="#e05030"/><rect x="440" y="1030" width="6" height="20" fill="#ddd"/>
<circle cx="443" cy="1070" r="9" fill="#e05030"/><rect x="440" y="1060" width="6" height="20" fill="#ddd"/>
<g class="w" font-size="5"><text x="410" y="1052">LEFT</text><text x="410" y="1058">WING</text><text x="410" y="1064">DOWN</text><text x="459" y="1052">RIGHT</text><text x="459" y="1058">WING</text><text x="459" y="1064">DOWN</text></g>
<g class="w c" font-size="6" font-weight="bold"><text x="492" y="1050">MANUAL</text><text x="492" y="1056">TRIM</text><text x="492" y="1062">CANCEL</text><text x="502" y="1032">NOSE</text><text x="502" y="1039">L</text><text x="594" y="1030">NOSE</text><text x="594" y="1037">R</text></g>
<circle cx="488" cy="1079" r="11" fill="#777"/><circle cx="488" cy="1079" r="7" fill="url(#blkn)"/>
<circle cx="548" cy="1052" r="37" fill="#ccc"/><circle cx="548" cy="1052" r="33" fill="#fafafa"/>
<rect x="544" y="1018" width="8" height="56" fill="#111"/>

<rect x="612" y="724" width="211" height="82" class="p"/>
<g class="w" font-size="6"><text x="637" y="733">L  R</text><text x="633" y="758">XPNDR</text><text x="681" y="740">ABV</text><text x="681" y="747">N</text><text x="681" y="754">BLW</text><text x="694" y="736">XPNDR</text><text x="728" y="736">FAIL</text><text x="754" y="745">ALT RPTG</text><text x="756" y="751">OFF</text><text x="752" y="760">STBY</text><text x="768" y="772">FL</text><text x="760" y="736">XPNDR</text><text x="778" y="732">TA ONLY</text><text x="790" y="738">TA/RA</text><text x="711" y="786">IDENT</text><text x="631" y="801">ALT SOURCE</text></g>
<g class="w c" font-size="7"><text x="618" y="758">A</text><text x="618" y="765">T</text><text x="618" y="772">C</text><text x="817" y="758">T</text><text x="817" y="765">C</text><text x="817" y="772">A</text><text x="817" y="779">S</text></g>
<circle cx="643" cy="743" r="7" class="sv"/><circle cx="673" cy="745" r="6" class="sv"/>
<rect x="692" y="744" width="56" height="31" rx="3" fill="#8a5a30"/><rect x="695" y="746" width="50" height="27" fill="#222"/>
<text x="697" y="754" font-size="7" fill="#fff">ATC L</text><text x="720" y="770" class="c" font-size="14" fill="#fff">4777</text>
<circle cx="720" cy="733" r="4" fill="#e8d030"/>
<path d="M770,757 L790,749 Q800,757 790,765 Z" fill="#ddd" stroke="#888"/>
<circle cx="759" cy="769" r="4" fill="#333"/>
<circle cx="680" cy="790" r="13" class="sv"/><circle cx="760" cy="790" r="13" class="sv"/><circle cx="718" cy="795" r="5" fill="#333"/>
<circle cx="640" cy="766" r="5" fill="#6a3a18"/><circle cx="792" cy="776" r="5" fill="#6a3a18"/>
<rect x="612" y="806" width="211" height="144" class="p"/>

<rect x="612" y="952" width="211" height="78" class="p"/>
<rect x="645" y="955" width="36" height="62" fill="#8e5630" stroke="#c0a080"/>
<rect x="649" y="958" width="28" height="56" fill="url(#red2)"/>
<rect x="694" y="957" width="38" height="20" fill="#333"/><rect x="696" y="959" width="34" height="16" fill="#e03030"/>
<text x="713" y="968" class="c" font-size="6" fill="#600">EVAC</text>
<circle cx="775" cy="981" r="23" fill="#30b040"/>
<g fill="none" stroke="#107020" stroke-width=".8"><circle cx="775" cy="981" r="17"/><circle cx="775" cy="981" r="11"/><circle cx="775" cy="981" r="5"/><line x1="760" y1="966" x2="790" y2="996"/><line x1="790" y1="966" x2="760" y2="996"/></g>
<circle cx="708" cy="1005" r="11" fill="#777"/><circle cx="708" cy="1005" r="7" fill="url(#blkn)"/>
<g class="w" font-size="6"><text x="725" y="1004">HORN</text><text x="725" y="1011">SHUTOFF</text></g>
<text x="762" y="1027" class="w c" font-size="8">EVACUATION SIGNAL</text>
<g class="w c" font-size="6"><text x="637" y="972">C</text><text x="637" y="979">O</text><text x="637" y="986">M</text><text x="637" y="993">M</text><text x="637" y="1000">A</text><text x="637" y="1007">N</text><text x="637" y="1014">D</text><text x="688" y="997">P</text><text x="688" y="1004">U</text><text x="688" y="1011">S</text><text x="688" y="1018">H</text></g>
<rect x="612" y="1032" width="211" height="63" class="p"/>
<text x="674" y="1053" class="w c" font-size="8">FLOOR LIGHTS</text>
<g class="w c" font-size="6"><text x="669" y="1067">OFF</text><text x="652" y="1080">BRT</text><text x="686" y="1080">DIM</text><text x="764" y="1053">NORM</text><text x="741" y="1062">CAPT</text><text x="789" y="1062">F/O</text></g>
<text x="764" y="1045" class="w c" font-size="8">OBS AUDIO</text>
<circle cx="669" cy="1077" r="6" class="sv"/>
<circle cx="764" cy="1080" r="19" class="sv"/><rect x="761" y="1062" width="6" height="22" fill="#fff"/>

<rect x="330" y="1097" width="370" height="60" fill="#a86a3c" stroke="#74441f"/>
<rect x="330" y="1100" width="370" height="6" fill="#c8a060"/>
<rect x="345" y="1111" width="350" height="40" fill="#9a5e32" stroke="#74441f"/>
<g fill="#2a2a2a" stroke="#666"><rect x="378" y="1121" width="36" height="18"/><rect x="420" y="1121" width="36" height="18"/><rect x="470" y="1121" width="34" height="18"/><rect x="510" y="1121" width="34" height="18"/><rect x="563" y="1119" width="36" height="18"/><rect x="603" y="1119" width="36" height="18"/></g>
<g class="c" font-size="6"><text x="396" y="1132" fill="#e03020">FAIL</text><text x="438" y="1129" fill="#e03020">LOW</text><text x="438" y="1136" fill="#e03020">PAPER</text><text x="487" y="1129" fill="#eee">PAPER</text><text x="487" y="1136" fill="#eee">CUT</text><text x="527" y="1132" fill="#eee">SLEW</text><text x="581" y="1128" fill="#eee">RESET</text><text x="621" y="1128" fill="#eee">TEST</text></g>
<rect x="700" y="1097" width="123" height="93" class="p"/>
<text x="776" y="1134" class="w c" font-size="5">AISLE STAND</text><text x="776" y="1140" class="w c" font-size="5">PNL/FLOOD</text>
<circle cx="778" cy="1160" r="13" class="sv"/>

<!-- handset -->
<path d="M343,1178 L400,1178 L400,1186 L357,1186 L357,1268 L400,1268 L400,1278 L343,1278 Z" fill="#666" stroke="#444"/>
<rect x="357" y="1186" width="40" height="82" fill="#111"/>
<rect x="395" y="1183" width="268" height="92" rx="4" fill="url(#plate)"/>
<rect x="410" y="1190" width="245" height="78" rx="6" fill="#888"/>
<g fill="#eee" font-size="7">
<text transform="translate(625,1195) rotate(90)">DR 1 LEFT                            11</text>
<text transform="translate(615,1195) rotate(90)">DR 2 LEFT FWD                     12</text>
<text transform="translate(606,1195) rotate(90)">DR 2 LEFT AFT                      13</text>
<text transform="translate(597,1195) rotate(90)">DR 3 LEFT                              14</text>
<text transform="translate(588,1195) rotate(90)">DR 4 LEFT                              15</text>
<text transform="translate(572,1195) rotate(90)">DR 1 RIGHT                          21</text>
<text transform="translate(563,1195) rotate(90)">DR 2 RIGHT FWD                   22</text>
<text transform="translate(554,1195) rotate(90)">DR 2 RIGHT AFT                    23</text>
<text transform="translate(545,1195) rotate(90)">DR 3 RIGHT                          24</text>
<text transform="translate(536,1195) rotate(90)">DR 4 RIGHT                          25</text>
<text transform="translate(520,1195) rotate(90)">PA FIRST                              41</text>
<text transform="translate(511,1195) rotate(90)">PA BUSINESS                       44</text>
<text transform="translate(502,1195) rotate(90)">PA ECONOMY                       42</text>
<text transform="translate(493,1195) rotate(90)">PA ALL                                   43</text>
<text transform="translate(484,1195) rotate(90)">PA                                           44</text>
<text transform="translate(475,1195) rotate(90)">ALL PRIORIT                         45</text>
<text transform="translate(459,1195) rotate(90)">ALL CALL                               55</text>
<text transform="translate(443,1195) rotate(90)">GND CREW CALL               +1</text>
</g>
<line x1="380" y1="1228" x2="320" y2="1252" stroke="#ccc" stroke-width="5"/>
<path d="M322,1250 L170,1318 L150,1330 L160,1305 L185,1295" fill="none" stroke="#888" stroke-width="34" stroke-linejoin="round"/>
<path d="M322,1250 L170,1318 L150,1330 L160,1305 L185,1295" fill="none" stroke="#f0f0f0" stroke-width="34" stroke-dasharray="3.5 2.5" stroke-linejoin="round"/>

<!-- side label -->
<rect x="32" y="1148" width="46" height="232" fill="#fff" stroke="#555"/>
<rect x="68" y="1148" width="8" height="8" fill="#111"/><rect x="68" y="1156" width="8" height="8" fill="#f0e000"/><rect x="68" y="1164" width="8" height="8" fill="#e01880"/><rect x="68" y="1172" width="8" height="8" fill="#1898e0"/>
<text transform="translate(48,1340) rotate(-90)" font-size="7" font-family="Liberation Serif" font-weight="bold" fill="#111">Boeing 777 - 200/300  -  Center pedestal</text>
<text transform="translate(40,1340) rotate(-90)" font-size="4" fill="#333">Training Use Only - Not for Operational Use</text>
<text transform="translate(66,1300) rotate(-90)" font-size="9" font-style="italic" fill="#111">FlightDeckPoster.nl</text>

<!-- watermark -->
<text transform="translate(165,1175) rotate(-55)" font-size="175" font-family="Liberation Sans" fill="none" stroke="#3a3530" stroke-opacity=".32" stroke-width="6" textLength="1185" lengthAdjust="spacingAndGlyphs">FlightDeckPoster.nl</text>
</svg>
</body></html>
